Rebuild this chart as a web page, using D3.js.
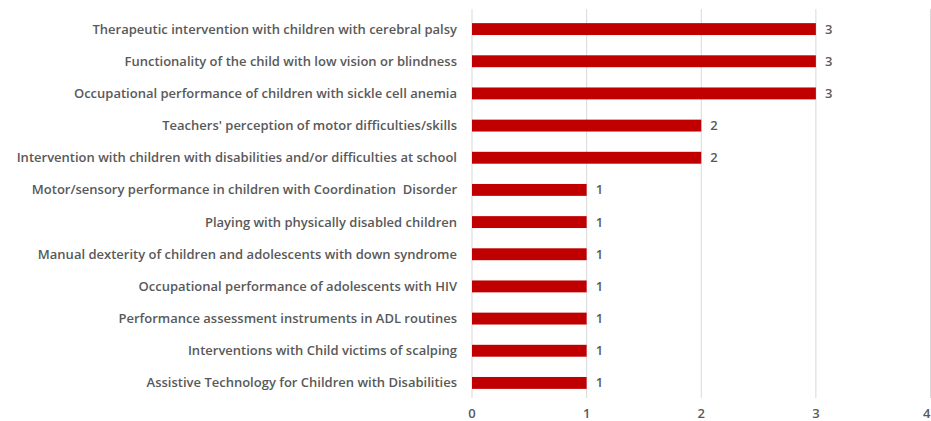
<!DOCTYPE html>
<html><head><meta charset="utf-8">
<script src="https://cdn.jsdelivr.net/npm/d3@7"></script>
<style>body{margin:0;background:#fff;}svg{display:block;font-family:"Open Sans",Lato,sans-serif;}</style>
</head><body><svg id="c" width="931" height="421"></svg>
<script>
const categories = [
 "Therapeutic intervention with children with cerebral palsy",
 "Functionality of the child with low vision or blindness",
 "Occupational performance of children with sickle cell anemia",
 "Teachers' perception of motor difficulties/skills",
 "Intervention with children with disabilities and/or difficulties at school",
 "Motor/sensory performance in children with Coordination  Disorder",
 "Playing with physically disabled children",
 "Manual dexterity of children and adolescents with down syndrome",
 "Occupational performance of adolescents with HIV",
 "Performance assessment instruments in ADL routines",
 "Interventions with Child victims of scalping",
 "Assistive Technology for Children with Disabilities"
];
const values = [3,3,3,2,2,1,1,1,1,1,1,1];
const xTicks = [0,1,2,3,4];

const svg = d3.select("#c");
const x = d3.scaleLinear().domain([0,4]).range([472,930.5]);
const y = d3.scaleBand().domain(categories).range([13,399]).paddingInner(0.63).paddingOuter(0.315);

svg.append("g").selectAll("line").data(xTicks).join("line")
 .attr("x1",d=>x(d)).attr("x2",d=>x(d)).attr("y1",9).attr("y2",398)
 .attr("stroke","#d9d9d9").attr("stroke-width",1);

svg.append("g").selectAll("rect").data(values).join("rect")
 .attr("x",x(0)).attr("y",(d,i)=>y(categories[i]))
 .attr("width",d=>x(d)-x(0)).attr("height",y.bandwidth())
 .attr("fill","#c00000");

svg.append("g").selectAll("text").data(values).join("text")
 .attr("x",d=>x(d)+9).attr("y",(d,i)=>y(categories[i])+y.bandwidth()/2)
 .attr("dy","0.35em").attr("font-size",13).attr("font-weight",600).attr("fill","#595959")
 .text(d=>d);

svg.append("g").selectAll("text").data(categories).join("text")
 .attr("x",457).attr("y",d=>y(d)+y.bandwidth()/2).attr("dy","0.35em")
 .attr("text-anchor","end").attr("font-size",13).attr("font-weight",600).attr("fill","#595959")
 .style("white-space","pre")
 .text(d=>d);

svg.append("g").selectAll("text").data(xTicks).join("text")
 .attr("x",d=>x(d)).attr("y",413).attr("dy","0.35em").attr("text-anchor",d=>d===4?"end":"middle")
 .attr("font-size",13).attr("font-weight",600).attr("fill","#595959").text(d=>d);
</script></body></html>
